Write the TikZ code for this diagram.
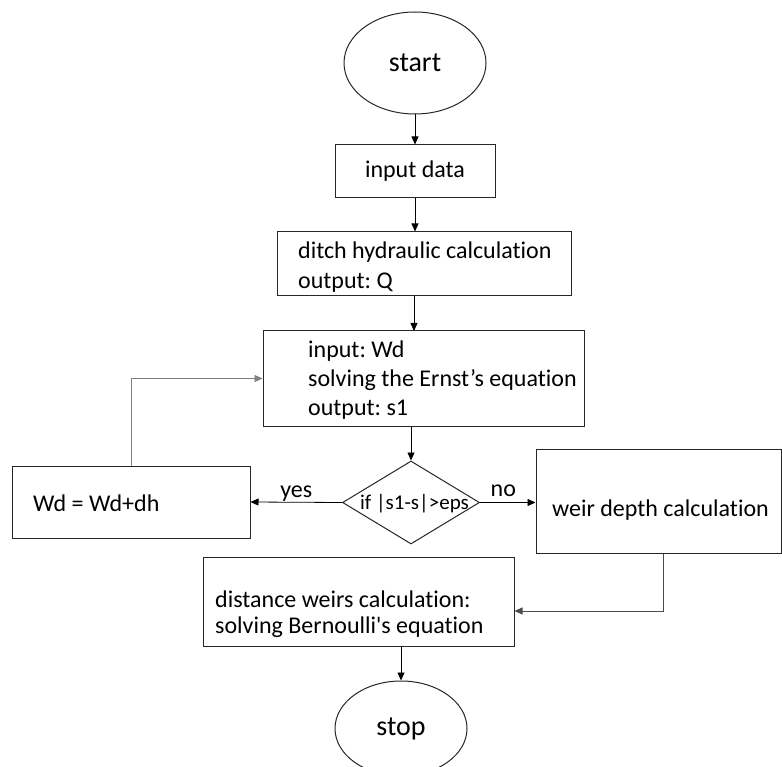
\documentclass[tikz,border=0pt]{standalone}
\usepackage{fontspec}
\setmainfont{Carlito}[Ligatures={NoCommon,NoRequired,NoContextual}]
\usetikzlibrary{arrows.meta,shapes.geometric}

\tikzset{
  box/.style={draw=black!85, rectangle, line width=1pt, inner sep=0pt},
  oval/.style={draw=black!85, ellipse, line width=1pt, inner sep=0pt, font=\fontsize{28pt}{30pt}\selectfont},
  test/.style={draw=black!85, diamond, line width=1pt, inner sep=0pt},
  txt/.style={anchor=west, align=left, inner sep=0pt},
  flow/.style={-{Triangle[length=8pt,width=7pt]}, line width=0.8pt},
}

\begin{document}
\frenchspacing
\begin{tikzpicture}[x=1pt,y=-1pt, font=\fontsize{24pt}{28.5pt}\selectfont]
 \useasboundingbox (0,0) rectangle (782,767);
 \clip (0,0) rectangle (782,767);

 \draw (415,63) node[oval,minimum width=142pt,minimum height=102pt] (start) {start};
 \draw (415,171.5) node[box,minimum width=160pt,minimum height=53pt] (input) {input data};
 \draw (424,264) node[box,minimum width=294pt,minimum height=64pt] (ditch) {};
   \draw (298,267) node[txt,font=\fontsize{24pt}{30pt}\selectfont] (ditchtext) {ditch hydraulic calculation\\output: Q};
 \draw (423.5,378.5) node[box,minimum width=321pt,minimum height=95pt] (solve) {};
   \draw (308,380) node[txt,font=\fontsize{24pt}{29pt}\selectfont] (solvetext) {input: Wd\\solving the Ernst’s equation\\output: s1};
 \draw (411,502.5) node[test,minimum width=137pt,minimum height=83pt] (cond) {};
   \draw (414.5,504) node[font=\fontsize{21pt}{23pt}\selectfont] (condtext) {if |s1-s|>eps};
 \draw (131,502) node[box,minimum width=238pt,minimum height=72pt] (wd) {};
   \draw (33,503) node[txt] (wdtext) {Wd = Wd+dh};
 \draw (658.5,501) node[box,minimum width=245pt,minimum height=104pt] (weir) {};
   \draw (552,510) node[txt] (weirtext) {weir depth calculation};
 \draw (358.5,601.5) node[box,minimum width=311pt,minimum height=89pt] (dist) {};
   \draw (215,614) node[txt,font=\fontsize{24pt}{25.5pt}\selectfont] (disttext) {distance weirs calculation:\\solving Bernoulli\textquotesingle s equation};
 \draw (401,728.5) node[oval,minimum width=132pt,minimum height=95pt] (stop) {stop};

 % connectors
 \draw[flow] (start.south) -- (input.north);
 \draw[flow] (input.south) -- (input.south |- ditch.north);
 \draw[flow] (414,296) -- (414,331);
 \draw[flow] (cond.north |- solve.south) -- (cond.north);
 \draw[flow] (cond.east) -- node[above=2pt,pos=0.42] (no) {no} (cond.east -| weir.west);
 \draw[flow] (cond.west) -- node[above=-3pt] (yes) {yes} (wd.east);
 \draw[flow,draw=black!50] (wd.north) |- (solve.west);
 \draw[flow,draw=black!70] ([xshift=5pt]weir.south) |- ([yshift=-9.5pt]dist.east);
 \draw[flow] (stop.north |- dist.south) -- (stop.north);
\end{tikzpicture}
\end{document}
